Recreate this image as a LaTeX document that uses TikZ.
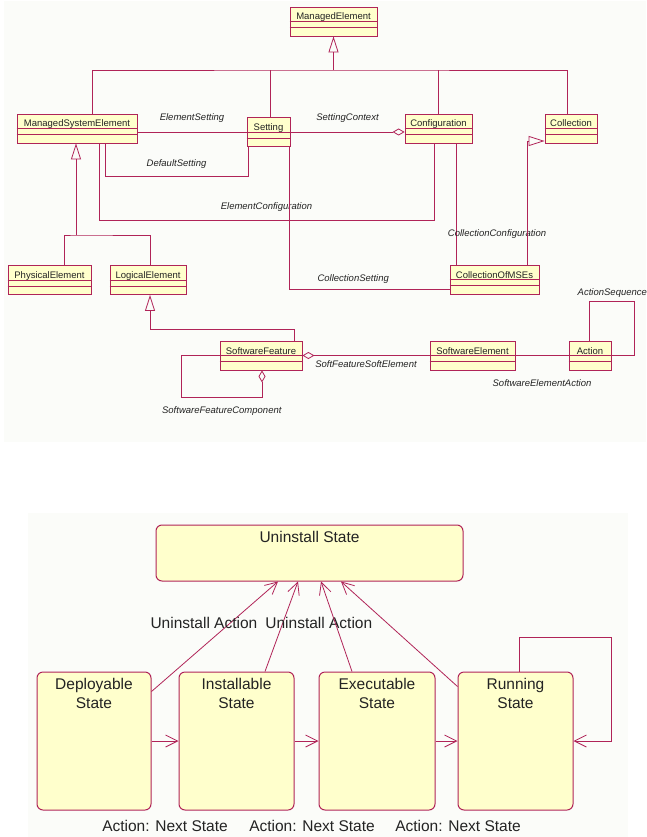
\documentclass[tikz,border=0pt]{standalone}
\usepackage{fontspec}
\setmainfont{Liberation Sans}
\usetikzlibrary{arrows.meta, positioning}
\definecolor{umlrouge}{RGB}{176,36,88}
\definecolor{umljaune}{RGB}{255,255,204}
\definecolor{fondgris}{RGB}{251,252,249}
\definecolor{texte}{RGB}{35,35,35}

\begin{document}
\begin{tikzpicture}[x=1pt, y=-1pt,
    classe/.style={draw=umlrouge, fill=umljaune, line width=0.8pt, inner xsep=2pt, inner ysep=2pt,
        minimum height=29pt, text height=11pt, text depth=14pt, text=texte,
        font=\fontsize{9.5}{11}\selectfont},
    lien/.style={draw=umlrouge, line width=0.8pt},
    herite/.style={lien, -{Triangle[open, length=16pt, width=10pt]}},
    agreg/.style={lien, -{Diamond[open, length=12pt, width=7pt]}},
    role/.style={font=\fontsize{9.5}{11}\selectfont\itshape, text=texte},
    etat/.style={draw=umlrouge, fill=umljaune, line width=1pt, rounded corners=6pt},
    nometat/.style={font=\fontsize{15.5}{19.5}\selectfont, text=texte, align=center},
    transition/.style={draw=umlrouge, line width=0.8pt, -{Straight Barb[length=12pt, width=12pt]}}]

    % Cadre et fonds des deux diagrammes
    \useasboundingbox (0,0) rectangle (646,837);
    \fill[fondgris] (4,1) rectangle (646,442);
    \fill[fondgris] (28,513) rectangle (628,837);

    % Classes du diagramme du haut
    \node[classe, minimum width=87pt] (ME) at (333.5,21.5) {ManagedElement};
    \node[classe, minimum width=120pt] (MSE) at (77,128.5) {ManagedSystemElement};
    \node[classe, minimum width=43pt] (Setting) at (268.5,132) {Setting};
    \node[classe, minimum width=67pt] (Config) at (438.5,128.5) {Configuration};
    \node[classe, minimum width=52pt] (Collection) at (571,128.5) {Collection};
    \node[classe, minimum width=89pt] (CollMSE) at (494.5,279.5) {CollectionOfMSEs};
    \node[classe, minimum width=83pt] (Physical) at (49.5,280) {PhysicalElement};
    \node[classe, minimum width=76pt] (Logical) at (148,280) {LogicalElement};
    \node[classe, minimum width=82pt] (SF) at (261,355.5) {SoftwareFeature};
    \node[classe, minimum width=85pt] (SE) at (472.5,355.5) {SoftwareElement};
    \node[classe, minimum width=42pt] (Action) at (590,355.5) {Action};

    % Compartiments des classes
    \foreach \c in {ME, MSE, Setting, Config, Collection, CollMSE, Physical, Logical, SF, SE, Action}
        \draw[lien] ([yshift=-15pt]\c.north west) -- ([yshift=-15pt]\c.north east)
                    ([yshift=-21pt]\c.north west) -- ([yshift=-21pt]\c.north east);

    % Heritage depuis ManagedElement
    \coordinate (bus) at (333.5,70);
    \draw[lien] ([xshift=15pt]MSE.north) |- (bus) -| ([xshift=-4pt]Collection.north);
    \draw[lien] ([xshift=1.5pt]Setting.north) -- ([xshift=1.5pt]Setting.north |- bus);
    \draw[lien] (Config.north) -- (Config.north |- bus);
    \draw[herite] (bus) -- (bus |- ME.south);

    % Heritage depuis ManagedSystemElement
    \coordinate (busMSE) at (76,235);
    \draw[lien] ([xshift=14.5pt]Physical.north) |- (busMSE) -| ([xshift=2pt]Logical.north);
    \draw[herite] (busMSE) -- (busMSE |- MSE.south);

    % Associations autour de Setting
    \draw[lien] (MSE.east |- Setting.west) -- (Setting.west)
        node[midway, above=5.5pt, role] (lblES) {ElementSetting};
    \draw[agreg] (Setting.east) -- (Setting.east -| Config.west)
        node[midway, above=5.5pt, role] (lblSC) {SettingContext};
    \draw[lien] ([xshift=28pt]MSE.south) -- ++(0,33) -| ([xshift=-20.5pt]Setting.south)
        node[pos=0.25, above=4.5pt, role] (lblDS) {DefaultSetting};
    \draw[lien] ([xshift=22pt]MSE.south) -- ++(0,77) -| ([xshift=-4.5pt]Config.south)
        node[pos=0.25, above=5.5pt, role] (lblEC) {ElementConfiguration};
    \draw[lien] ([xshift=20.5pt]Setting.south) |- ([yshift=-9.5pt]CollMSE.west)
        node[pos=0.7, above=1.5pt, role] (lblCS) {CollectionSetting};

    % Collections
    \coordinate (cc) at ([xshift=17.5pt]Config.south);
    \draw[lien] (cc) -- (cc |- CollMSE.north)
        node[pos=0.75, xshift=41pt, role] (lblCC) {CollectionConfiguration};
    \draw[herite] ([xshift=32.5pt]CollMSE.north) |- ([yshift=-12.5pt]Collection.west);

    % Partie logicielle
    \draw[herite] ([xshift=33pt]SF.north) -- ++(0,-11) -| ([xshift=2pt]Logical.south);
    \draw[agreg] (SF.west) -- ++(-38,0) -- ++(0,42) -| ([xshift=1pt]SF.south)
        node[pos=0.25, below=5pt, role] (lblSFC) {SoftwareFeatureComponent};
    \draw[agreg] (SE.west) -- (SE.west -| SF.east)
        node[midway, below=1.5pt, role] (lblSFSE) {SoftFeatureSoftElement};
    \draw[lien] (SE.east) -- (Action.west)
        node[midway, below=20pt, role] (lblSEA) {SoftwareElementAction};
    \draw[lien] ([xshift=-1pt]Action.north) -- ++(0,-39)
        node[anchor=south west, xshift=-15pt, role] (lblAS) {ActionSequence}
        -- ++(45,0) |- (Action.east);

    % Etats du diagramme du bas
    \node[etat, minimum width=307pt, minimum height=56pt] (Uninstall) at (309.5,553) {};
    \node[etat, minimum width=114pt, minimum height=138pt] (Deploy) at (94,741) {};
    \node[etat, minimum width=115pt, minimum height=138pt] (Install) at (236.5,741) {};
    \node[etat, minimum width=116pt, minimum height=138pt] (Exec) at (377,741) {};
    \node[etat, minimum width=115pt, minimum height=138pt] (Run) at (515.5,741) {};

    % Noms des etats
    \node[nometat, below=3.5pt of Uninstall.north] (nomU) {Uninstall State};
    \node[nometat, below=3pt of Deploy.north] (nomD) {Deployable\\State};
    \node[nometat, below=3pt of Install.north] (nomI) {Installable\\State};
    \node[nometat, below=3pt of Exec.north] (nomE) {Executable\\State};
    \node[nometat, below=3pt of Run.north] (nomR) {Running\\State};

    % Transitions vers l'etat suivant
    \draw[transition] (Deploy.east) -- (Install.west)
        node[midway, below=76pt, nometat] (lblN1) {Action: Next State};
    \draw[transition] (Install.east) -- (Exec.west)
        node[midway, below=76pt, xshift=5.5pt, nometat] (lblN2) {Action: Next State};
    \draw[transition] (Exec.east) -- (Run.west)
        node[midway, below=76pt, xshift=11.5pt, nometat] (lblN3) {Action: Next State};
    \draw[transition] ([xshift=3.5pt]Run.north) |- ++(92,-34) |- (Run.east);

    % Transitions vers Uninstall State
    \draw[transition] ([yshift=-20pt]Deploy.north east) -- ([xshift=-31.5pt]Uninstall.south)
        node[pos=0.62, xshift=-26pt, nometat] (lblU1) {Uninstall Action};
    \draw[transition] ([xshift=28.5pt]Install.north) -- ([xshift=-11.5pt]Uninstall.south)
        node[pos=0.54, xshift=36pt, nometat] (lblU2) {Uninstall Action};
    \draw[transition] ([xshift=-25pt]Exec.north) -- ([xshift=11.5pt]Uninstall.south);
    \draw[transition] ([yshift=-15pt]Run.north west) -- ([xshift=31.5pt]Uninstall.south);

\end{tikzpicture}
\end{document}
